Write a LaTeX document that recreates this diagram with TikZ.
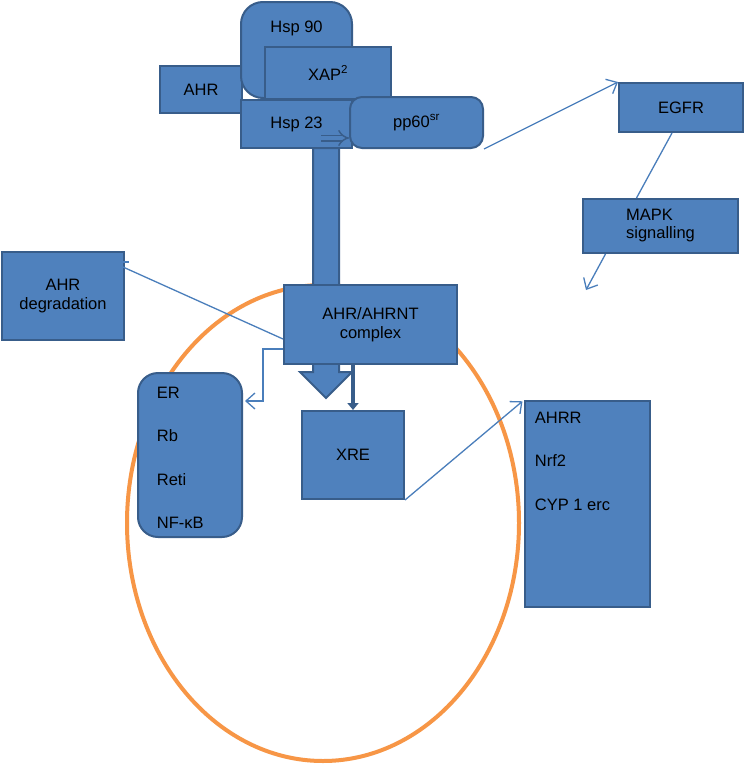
\documentclass[tikz,border=0pt]{standalone}
\usepackage{fontspec}
\setmainfont{Liberation Sans}
\usetikzlibrary{arrows.meta, positioning}

\definecolor{boxfill}{HTML}{4F81BD}
\definecolor{boxline}{HTML}{385D8A}
\definecolor{linkblue}{HTML}{4A7EBB}
\definecolor{rimorange}{HTML}{F79646}
\newcommand{\boxfont}{\fontsize{16.5}{18.5}\selectfont}
\newcommand{\listfont}{\fontsize{16.5}{43.5}\selectfont}

\begin{document}
\begin{tikzpicture}[x=1pt, y=-1pt,
			box/.style={
				rectangle,
				draw=boxline,
				fill=boxfill,
				line width=2pt,
				inner sep=0pt,
				align=center,
				font=\boxfont
			},
			rbox/.style={box, rounded corners=#1},
			listtext/.style={align=left, font=\listfont, inner sep=0pt},
			link/.style={draw=linkblue, line width=1.3pt},
			arrow/.style={link, -{Straight Barb[length=9pt,width=16pt]}},
			every label/.style={font=\boxfont}
			]
			
			\useasboundingbox (0,0) rectangle (750,766);
			\fill [white] (0,0) rectangle (750,766);
			
			\draw [rimorange, line width=4pt] (323,523) ellipse [x radius=196, y radius=238];
			
			\node (ahr) [box, minimum width=82pt, minimum height=47pt] at (201,89.5) {AHR};
			\node (hsp90) [rbox=22pt, minimum width=111pt, minimum height=96pt,
				label={[label distance=-38pt]north:Hsp 90}] at (296.5,50) {};
			\node (xap) [box, minimum width=126pt, minimum height=52pt] at (328,73) {XAP\textsuperscript{2}};
			\node (hsp23) [box, minimum width=111pt, minimum height=48pt] at (296.5,124) {Hsp 23};
			\node (pp60) [rbox=12pt, minimum width=133pt, minimum height=51pt] at (416.5,122.5) {pp60\textsuperscript{sr}};
			
			\coordinate (hspout) at (321,138);
			\draw [boxline, line width=1.5pt, double=boxfill, double distance=4pt, -{Implies}] (hspout) -- (hspout -| pp60.west);
			
			\draw [boxline, fill=boxfill, line width=2pt] (313,148) -- (313,372) -- (300,372) -- (326,398)
				-- (352,372) -- (339,372) -- (339,148) -- cycle;
			
			\node (complex) [box, minimum width=173pt, minimum height=79pt] at (370.5,324.5) {AHR/AHRNT\\complex};
			\node (degr) [box, minimum width=122pt, minimum height=88pt] at (63,296) {AHR\\degradation};
			
			\node (egfr) [box, minimum width=124pt, minimum height=49pt] at (681,107.5) {EGFR};
			\node (mapk) [box, minimum width=155pt, minimum height=54pt] at (660.5,226) {\begin{tabular}{@{}l@{}}MAPK\\signalling\end{tabular}};
			\coordinate (mapkend) at (586,290);
			
			\node (er) [rbox=20pt, minimum width=104pt, minimum height=164pt] at (190,455) {};
			\node (erlist) [listtext, below right=14.7pt and 19.7pt of er.north west] {ER\\Rb\\Reti\\NF-κB};
			\node (xre) [box, minimum width=102pt, minimum height=88pt] at (353,455) {XRE};
			\node (ahrr) [box, minimum width=125pt, minimum height=206pt] at (587.5,504) {};
			\node (ahrrlist) [listtext, below right=11.7pt and 10.7pt of ahrr.north west] {AHRR\\Nrf2\\CYP 1 erc};
			
			\draw [arrow] (pp60.south east) -- (egfr.north west);
			\draw [link] ([xshift=-9pt]egfr.south) -- ([xshift=-24pt]mapk.north);
			\draw [arrow] ([xshift=-55pt]mapk.south) -- (mapkend);
			\draw [link] ([yshift=-14.5pt]complex.west) -- ([xshift=-2pt,yshift=-16pt]degr.north east);
			\draw [link] ([xshift=-2pt,yshift=-11pt]degr.north east) -- ++(6,0);
			\draw [arrow] ([yshift=-24.5pt]complex.west) -- ++(-20,0) |- ([xshift=2pt,yshift=54pt]er.east);
			\draw [boxline, line width=4pt, -{Triangle[length=7pt,width=11pt]}] (complex.south -| xre.north) -- (xre.north);
			\draw [arrow, shorten >=2pt] (xre.south east) -- (ahrr.north west);
			
		\end{tikzpicture}
\end{document}
